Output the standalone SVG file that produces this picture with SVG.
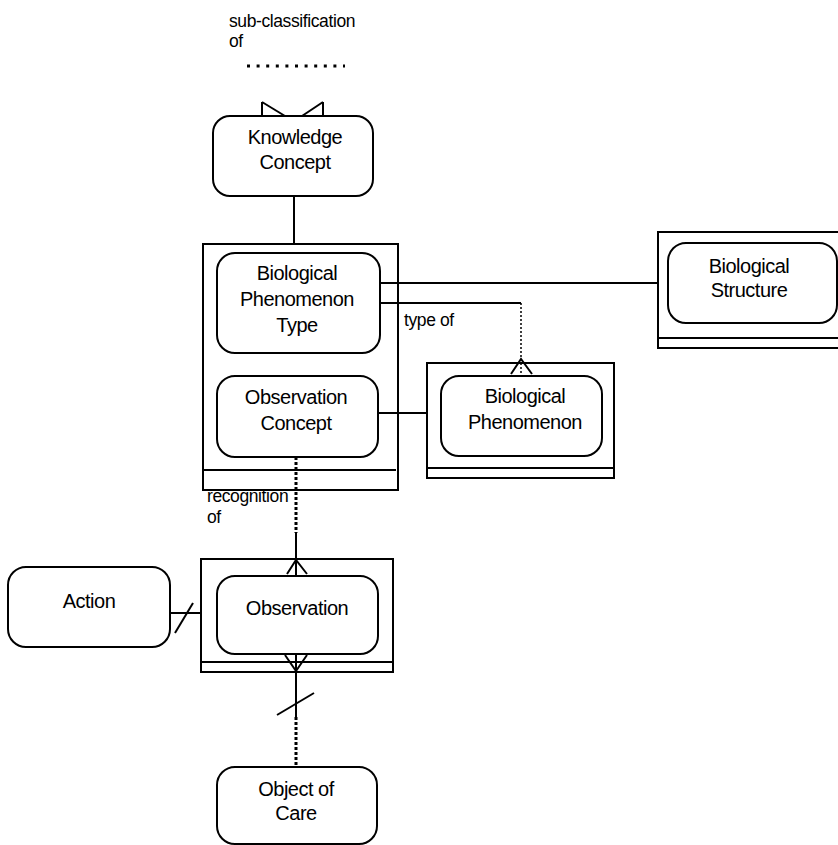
<svg xmlns="http://www.w3.org/2000/svg" width="838" height="845" viewBox="0 0 838 845">
<style>
.bg{fill:#fff}
.node rect.r{fill:#fff;stroke:#000;stroke-width:2}
.node rect.o{fill:#fff;stroke:#000;stroke-width:2}
.sep{stroke:#000;stroke-width:1.8}
text{font-family:"Liberation Sans",Arial,sans-serif;fill:#000}
.nt{font-size:20px;text-anchor:middle;letter-spacing:-0.5px}
.lb{font-size:17.5px;letter-spacing:-0.4px}
#connectors line,#connectors polyline{stroke:#000;stroke-width:2;fill:none}
#connectors .dots{stroke-width:3;stroke-dasharray:3 2}
#connectors .dash{stroke-width:1.5;stroke-dasharray:2 2}
#connectors .topdots{stroke-width:3;stroke-dasharray:3 6.6}
</style>
<rect class="bg" x="0" y="0" width="838" height="845"/>

<g id="label-subclass">
  <text class="lb" x="229" y="27">sub-classification</text>
  <text class="lb" x="229" y="47">of</text>
</g>

<g id="node-knowledge-concept" class="node">
  <rect class="r" x="213" y="116" width="160" height="80" rx="17"/>
  <text class="nt" x="295" y="144">Knowledge</text>
  <text class="nt" x="295" y="169">Concept</text>
</g>

<g id="node-bpt-container" class="node">
  <rect class="o" x="203" y="244" width="195" height="246"/>
  <line class="sep" x1="203" y1="470" x2="396" y2="470"/>
</g>

<g id="node-biological-phenomenon-type" class="node">
  <rect class="r" x="217" y="253" width="163" height="100" rx="18"/>
  <text class="nt" x="297" y="280">Biological</text>
  <text class="nt" x="297" y="306">Phenomenon</text>
  <text class="nt" x="297" y="332">Type</text>
</g>

<g id="node-observation-concept" class="node">
  <rect class="r" x="217" y="376" width="161" height="81" rx="18"/>
  <text class="nt" x="296" y="404">Observation</text>
  <text class="nt" x="296" y="430">Concept</text>
</g>

<g id="node-biological-structure" class="node">
  <rect class="o" x="658" y="232" width="195" height="116"/>
  <line class="sep" x1="658" y1="338" x2="853" y2="338"/>
  <rect class="r" x="668" y="243" width="169" height="80" rx="18"/>
  <text class="nt" x="749" y="273">Biological</text>
  <text class="nt" x="749" y="297">Structure</text>
</g>

<g id="node-biological-phenomenon" class="node">
  <rect class="o" x="427" y="363" width="187" height="115"/>
  <line class="sep" x1="427" y1="468" x2="614" y2="468"/>
  <rect class="r" x="441" y="376" width="161" height="80" rx="18"/>
  <text class="nt" x="525" y="403">Biological</text>
  <text class="nt" x="525" y="429">Phenomenon</text>
</g>

<g id="label-type-of">
  <text class="lb" x="404" y="326">type of</text>
</g>

<g id="label-recognition">
  <text class="lb" x="207" y="502">recognition</text>
  <text class="lb" x="207" y="523">of</text>
</g>

<g id="node-action" class="node">
  <rect class="r" x="8" y="567" width="162" height="80" rx="18"/>
  <text class="nt" x="89" y="608">Action</text>
</g>

<g id="node-observation" class="node">
  <rect class="o" x="201" y="559" width="192" height="113"/>
  <line class="sep" x1="201" y1="662" x2="393" y2="662"/>
  <rect class="r" x="217" y="576" width="161" height="78" rx="18"/>
  <text class="nt" x="297" y="615">Observation</text>
</g>

<g id="node-object-of-care" class="node">
  <rect class="r" x="217" y="767" width="160" height="77" rx="18"/>
  <text class="nt" x="296" y="796">Object of</text>
  <text class="nt" x="296" y="820">Care</text>
</g>

<g id="connectors">
  <line class="topdots" x1="247" y1="66" x2="345" y2="66"/>
  <line x1="262" y1="102" x2="262" y2="116"/>
  <line x1="262" y1="102" x2="285" y2="116"/>
  <line x1="323" y1="102" x2="323" y2="116"/>
  <line x1="323" y1="102" x2="302" y2="116"/>
  <line x1="294" y1="196" x2="294" y2="244"/>
  <line x1="380" y1="283" x2="658" y2="283"/>
  <line x1="380" y1="303" x2="521" y2="303"/>
  <line class="dash" x1="521" y1="303" x2="521" y2="375"/>
  <polyline points="511,374 521,359 532,374"/>
  <line x1="378" y1="413" x2="427" y2="413"/>
  <line class="dots" x1="296" y1="457" x2="296" y2="533"/>
  <line x1="296" y1="533" x2="296" y2="576"/>
  <polyline points="287,574 296,560 307,574"/>
  <line x1="170" y1="613" x2="201" y2="613"/>
  <line x1="175" y1="633" x2="193" y2="603"/>
  <line x1="296" y1="654" x2="296" y2="717"/>
  <polyline points="285,655 296,671 307,655"/>
  <line x1="277" y1="715" x2="314" y2="693"/>
  <line class="dots" x1="296" y1="717" x2="296" y2="767"/>
</g>
</svg>
